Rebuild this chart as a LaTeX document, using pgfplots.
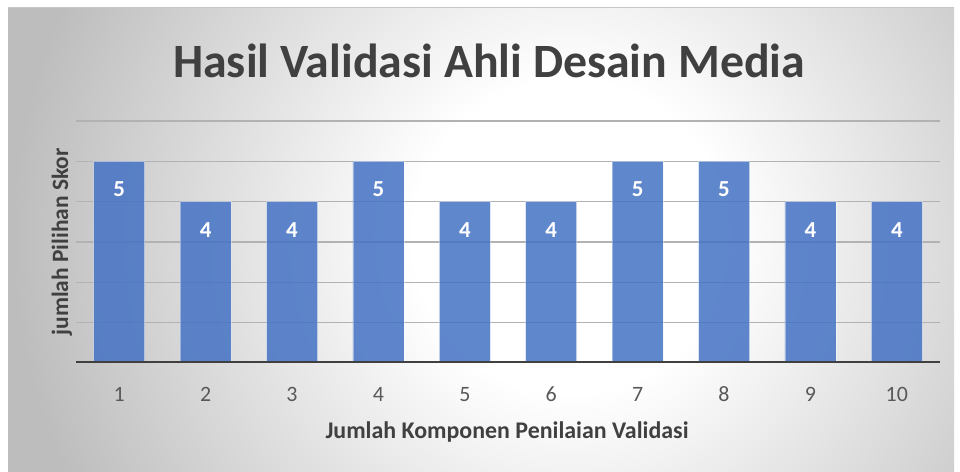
\documentclass[border=0pt]{standalone}
\usepackage{pgfplots}
\pgfplotsset{compat=1.18}
\usepackage{fontspec}
\setmainfont{Carlito}
\definecolor{barblue}{RGB}{68,114,196}
\definecolor{titlegray}{RGB}{64,64,64}
\definecolor{tickgray}{RGB}{89,89,89}
\pgfdeclareradialshading{bgshade}{\pgfpoint{0bp}{0bp}}{color(0bp)=(white); color(7bp)=(white); color(25bp)=(black!26); color(50bp)=(black!26)}
\begin{document}
\begin{tikzpicture}[x=1bp,y=1bp]
\path[use as bounding box, fill=white] (0,0) rectangle (960,472);
\begin{scope}
\clip (8,0) rectangle (954,464);
\fill[black!26] (8,0) rectangle (954,464);
\shade[shading=bgshade] (570,235) circle (560);
\end{scope}
\draw[black!22, line width=1bp] (8,464) -- (954,464);
\begin{axis}[
  at={(76bp,109bp)}, anchor=south west,
  scale only axis, width=864bp, height=242bp,
  xmin=0.5, xmax=10.5, ymin=0, ymax=6,
  ybar, bar width=51bp,
  axis line style={draw=none},
  xtick={1,...,10}, ytick={1,...,6}, yticklabels={},
  ymajorgrids, major grid style={black!30, line width=1.2bp},
  major tick length=0,
  /pgf/number format/assume math mode=true,
  xticklabel style={font=\fontsize{22}{26}\selectfont, text=tickgray, yshift=-20bp, text height=15bp, text depth=0bp},
  nodes near coords,
  every node near coord/.append style={anchor=center, yshift=-28bp, text=white, text opacity=1, font=\bfseries\fontsize{23}{26}\selectfont},
]
\addplot[fill=barblue, fill opacity=0.85, draw=white, draw opacity=0.4, line width=0.6bp]
  coordinates {(1,5) (2,4) (3,4) (4,5) (5,4) (6,4) (7,5) (8,5) (9,4) (10,4)};
\draw[line width=3.6bp, color=titlegray] (axis cs:0.5,0) -- (axis cs:10.5,0);
\end{axis}
\node[font=\bfseries\fontsize{48}{52}\selectfont, text=titlegray] at (489,411) {Hasil Validasi Ahli Desain Media};
\node[font=\bfseries\fontsize{24}{28}\selectfont, text=titlegray, anchor=base] at (507,33) {Jumlah Komponen Penilaian Validasi};
\node[font=\bfseries\fontsize{23.5}{27}\selectfont, text=titlegray, anchor=base, rotate=90] at (68,230) {jumlah Pilihan Skor};
\end{tikzpicture}
\end{document}
